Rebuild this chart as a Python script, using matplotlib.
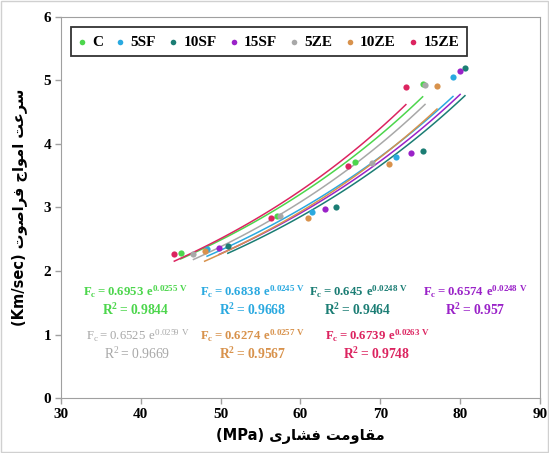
import numpy as np
import matplotlib.pyplot as plt
from matplotlib.patches import Rectangle

plt.rcParams['mathtext.fontset'] = 'custom'
plt.rcParams['mathtext.rm'] = 'Liberation Serif'
plt.rcParams['mathtext.bf'] = 'Liberation Serif:bold'

names = ['C', '5SF', '10SF', '15SF', '5ZE', '10ZE', '15ZE']
colors = ['#4cd64c', '#2aa9e0', '#1b7d74', '#9a22c8', '#a8a8a8', '#d8924c', '#dc2460']

# compressive strength (MPa) and pulse velocity (km/s) per mix
x_C = [45.0, 57.0, 66.8, 75.3]
y_C = [2.28, 2.87, 3.71, 4.94]
x_5SF = [48.3, 61.5, 72.0, 79.1]
y_5SF = [2.34, 2.93, 3.80, 5.06]
x_10SF = [50.9, 64.4, 75.4, 80.6]
y_10SF = [2.39, 3.01, 3.89, 5.20]
x_15SF = [49.8, 63.1, 73.9, 80.0]
y_15SF = [2.37, 2.98, 3.86, 5.15]
x_5ZE = [46.6, 57.4, 68.9, 75.6]
y_5ZE = [2.27, 2.86, 3.70, 4.93]
x_10ZE = [48.0, 60.9, 71.1, 77.1]
y_10ZE = [2.31, 2.84, 3.69, 4.91]
x_15ZE = [44.2, 56.3, 66.0, 73.2]
y_15ZE = [2.26, 2.83, 3.66, 4.89]

fit_a = [0.6953, 0.6838, 0.645, 0.6574, 0.6525, 0.6274, 0.6739]
fit_b = [0.0255, 0.0245, 0.0248, 0.0248, 0.0259, 0.0257, 0.0263]
fit_r2 = ['0.9844', '0.9668', '0.9464', '0.957', '0.9669', '0.9567', '0.9748']
# where each equation sits (data coords of the F_c line)
eq_x = [39.4, 54.0, 67.2, 81.9, 39.6, 54.0, 69.6]
eq_y = [1.67, 1.67, 1.67, 1.67, 0.98, 0.98, 0.98]
eq_bold = [True, True, True, True, False, True, True]

xs = [x_C, x_5SF, x_10SF, x_15SF, x_5ZE, x_10ZE, x_15ZE]
ys = [y_C, y_5SF, y_10SF, y_15SF, y_5ZE, y_10ZE, y_15ZE]

fig = plt.figure(figsize=(5.49, 4.53), dpi=100)
ax = fig.add_axes([0.111, 0.1214, 0.8726, 0.8411])

for i in range(len(names)):
    t = np.linspace(min(xs[i]), max(xs[i]), 100)
    ax.plot(t, fit_a[i] * np.exp(fit_b[i] * t), color=colors[i], lw=1.1, zorder=2)
for i in range(len(names)):
    ax.scatter(xs[i], ys[i], s=20, color=colors[i], label=names[i], zorder=3, linewidths=0)

for i in range(len(names)):
    if eq_bold[i]:
        s1 = r'$\mathbf{F_c = %s\ e^{%s\ V}}$' % (fit_a[i], '%.4f' % fit_b[i])
        s2 = r'$\mathbf{R^2 = %s}$' % fit_r2[i]
    else:
        s1 = r'$\mathrm{F_c = %s\ e^{%s\ V}}$' % (fit_a[i], '%.4f' % fit_b[i])
        s2 = r'$\mathrm{R^2 = %s}$' % fit_r2[i]
    ax.text(eq_x[i], eq_y[i], s1, color=colors[i], fontsize=9.2, ha='center', va='center')
    ax.text(eq_x[i], eq_y[i] - 0.28, s2, color=colors[i], fontsize=9.8, ha='center', va='center')

ax.set_xlim(30, 90)
ax.set_ylim(0, 6)
ax.set_xticks(np.arange(30, 91, 10))
ax.set_yticks(np.arange(0, 7, 1))
for sp in ax.spines.values():
    sp.set_color('#a0a0a0')
ax.tick_params(color='#a0a0a0', length=4, width=1, labelsize=11, pad=3)
for lab in ax.get_xticklabels() + ax.get_yticklabels():
    lab.set_fontfamily('Liberation Serif')
    lab.set_fontweight('bold')

# RTL Persian text written in shaped presentation forms, visual order
xlab = '(MPa) ' + '\uFEEF\uFEAD\uFE8E\uFEB8\uFED3' + ' ' + '\uFE96\uFEE3\uFEED\uFE8E\uFED8\uFEE3'
ylab = ('(Km/sec) ' + '\uFE95\uFEEE\uFEBB\uFE8D\uFEAE\uFED3' + ' '
        + '\uFE9D\uFE8D\uFEEE\uFEE3\uFE8D' + ' ' + '\uFE96\uFECB\uFEAE\uFEB3')
ax.set_xlabel(xlab, fontsize=10.5, fontweight='bold', family=['DejaVu Sans'], labelpad=5)
ax.set_ylabel(ylab, fontsize=10.5, fontweight='bold', family=['DejaVu Sans'], labelpad=12)

leg = ax.legend(loc='upper left', bbox_to_anchor=(0.022, 0.973), ncol=7, frameon=True,
                fancybox=False, edgecolor='black', handlelength=0.35, handletextpad=0.5,
                columnspacing=0.95, borderpad=0.5, borderaxespad=0.0, markerscale=0.9,
                prop={'family': 'Liberation Serif', 'weight': 'bold', 'size': 11})
leg.get_frame().set_linewidth(1.3)

fig.patches.append(Rectangle((0.002, 0.002), 0.996, 0.996, transform=fig.transFigure,
                             fill=False, edgecolor='#d0d0d0', lw=1))

fig.savefig('out.png', dpi=100)
